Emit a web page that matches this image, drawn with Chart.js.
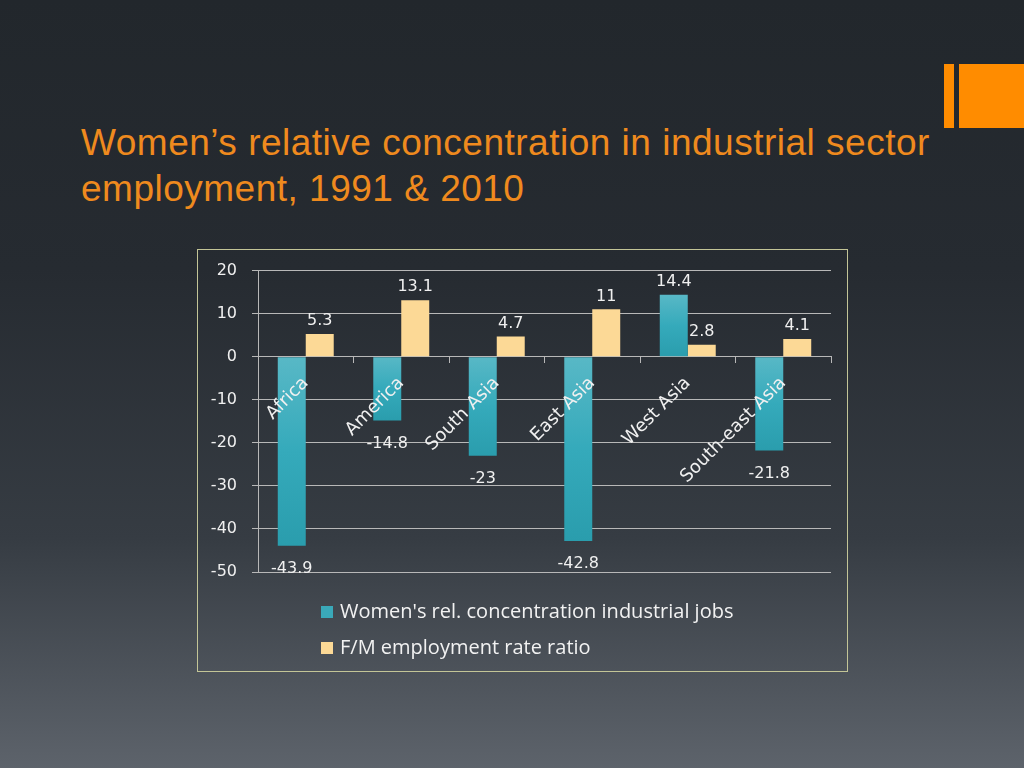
<!DOCTYPE html>
<html>
<head>
<meta charset="utf-8">
<script src="https://cdn.jsdelivr.net/npm/chart.js@4"></script>
<style>
  html, body { margin: 0; padding: 0; }
  body {
    width: 1024px; height: 768px; overflow: hidden; position: relative;
    background: linear-gradient(180deg, #22272c 0%, #262b31 35%, #363c43 70%, #5d636b 100%);
    font-family: "Open Sans", sans-serif;
  }
  #title {
    position: absolute; left: 81px; top: 120px;
    font-family: "Liberation Sans", Arial, sans-serif;
    font-size: 37px; line-height: 46px; letter-spacing: 0.5px; color: #ef8a1e;
    white-space: nowrap;
  }
  .deco { position: absolute; background: #ff8c00; }
  #box {
    position: absolute; left: 197px; top: 249px; width: 649px; height: 421px;
    border: 1px solid #c3c597;
  }
  #chart { position: absolute; left: 197px; top: 246px; }
  #legend { position: absolute; left: 321px; top: 596px; color: #f2f2f2; font-size: 20px; }
  #legend div { height: 36px; line-height: 30px; white-space: nowrap; }
  #legend span { display: inline-block; width: 12px; height: 12px; margin-right: 7px; vertical-align: 0px; }
</style>
</head>
<body>
<div id="title">Women’s relative concentration in industrial sector<br>employment, 1991 &amp; 2010</div>
<div class="deco" style="left:944px; top:64px; width:10px; height:64px;"></div>
<div class="deco" style="left:959px; top:64px; width:65px; height:64px;"></div>
<div id="box"></div>
<canvas id="chart" width="650" height="425"></canvas>
<div id="legend"></div>
<script>
const categories = ["Africa", "America", "South Asia", "East Asia", "West Asia", "South-east Asia"];
const concentration = [-43.9, -14.8, -23, -42.8, 14.4, -21.8];
const ratio = [5.3, 13.1, 4.7, 11, 2.8, 4.1];
const seriesNames = ["Women's rel. concentration industrial jobs", "F/M employment rate ratio"];
const yMin = -50, yMax = 20, yStep = 10;

const textColor = "#f0f0f0";
const gridColor = "#b8b8b8";

function tealFill(context) {
  const chart = context.chart;
  if (!chart.chartArea || context.type !== "data") return "#3aa9b9";
  const y = chart.scales.y;
  const a = y.getPixelForValue(0);
  const b = y.getPixelForValue(context.parsed.y);
  const top = Math.min(a, b), bottom = Math.max(a, b);
  if (bottom - top < 1) return "#3aa9b9";
  const g = chart.ctx.createLinearGradient(0, top, 0, bottom);
  g.addColorStop(0, "#58b8c6");
  g.addColorStop(0.5, "#35aabb");
  g.addColorStop(1, "#2a9dad");
  return g;
}

const valueLabels = {
  id: "valueLabels",
  afterDatasetsDraw(chart) {
    const ctx = chart.ctx;
    ctx.save();
    ctx.font = '16px "DejaVu Sans"';
    ctx.fillStyle = textColor;
    ctx.textAlign = "center";
    chart.data.datasets.forEach((ds, i) => {
      chart.getDatasetMeta(i).data.forEach((bar, j) => {
        const v = ds.data[j];
        if (v >= 0) {
          ctx.textBaseline = "bottom";
          ctx.fillText(String(v), bar.x, bar.y - 5);
        } else {
          ctx.textBaseline = "top";
          ctx.fillText(String(v), bar.x, bar.y + 15);
        }
      });
    });
    ctx.restore();
  }
};

const chart = new Chart(document.getElementById("chart").getContext("2d"), {
  type: "bar",
  data: {
    labels: categories,
    datasets: [
      { label: seriesNames[0], data: concentration, backgroundColor: tealFill },
      { label: seriesNames[1], data: ratio, backgroundColor: "#fcd996" }
    ]
  },
  options: {
    responsive: false,
    animation: false,
    categoryPercentage: 0.586,
    barPercentage: 1,
    layout: { padding: { left: 0, right: 16, top: 18, bottom: 99 } },
    plugins: {
      legend: { display: false },
      tooltip: { enabled: false }
    },
    scales: {
      x: {
        position: { y: 0 },
        offset: true,
        grid: { drawOnChartArea: false, offset: true, tickLength: 6, color: gridColor },
        border: { color: gridColor },
        ticks: {
          z: 1,
          color: textColor,
          font: { family: "DejaVu Sans", size: 18 },
          minRotation: 45, maxRotation: 45,
          padding: 10
        }
      },
      y: {
        min: yMin, max: yMax,
        afterFit(scale) { scale.width = 61; },
        grid: { color: gridColor, tickLength: 6 },
        border: { color: gridColor },
        ticks: {
          stepSize: yStep,
          color: textColor,
          padding: 15,
          font: { family: "DejaVu Sans", size: 16 }
        }
      }
    }
  },
  plugins: [valueLabels]
});

const legend = document.getElementById("legend");
chart.data.datasets.forEach((ds, i) => {
  const row = document.createElement("div");
  const sw = document.createElement("span");
  sw.style.background = i === 0 ? "#3aa9b9" : "#fcd996";
  row.appendChild(sw);
  row.appendChild(document.createTextNode(ds.label));
  legend.appendChild(row);
});
</script>
</body>
</html>
